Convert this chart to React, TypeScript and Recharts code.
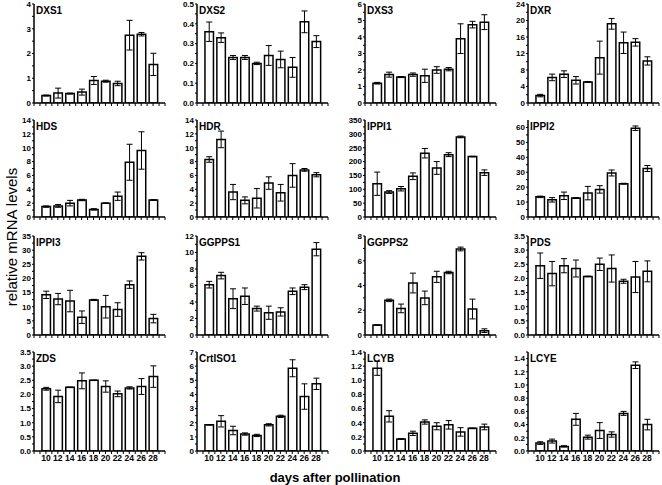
import React from 'react';
import { BarChart, Bar, XAxis, YAxis, ErrorBar } from 'recharts';

// days after pollination
const days = [10, 12, 14, 16, 18, 20, 22, 24, 26, 28];
const dayTicks = [8, 9, 10, 11, 12, 13, 14, 15, 16, 17, 18, 19, 20, 21, 22, 23, 24, 25, 26, 27, 28, 29, 30];

// means and errors
const dxs1 = [0.3, 0.4, 0.38, 0.44, 0.91, 0.88, 0.79, 2.74, 2.78, 1.56];
const dxs1Err = [0.02, 0.2, 0.02, 0.12, 0.16, 0.04, 0.09, 0.6, 0.07, 0.45];
const dxs2 = [0.36, 0.33, 0.23, 0.23, 0.2, 0.24, 0.22, 0.18, 0.41, 0.31];
const dxs2Err = [0.049, 0.024, 0.01, 0.01, 0.006, 0.05, 0.042, 0.05, 0.055, 0.03];
const dxs3 = [1.2, 1.72, 1.57, 1.72, 1.65, 2.0, 2.05, 3.9, 4.75, 4.9];
const dxs3Err = [0.05, 0.15, 0.03, 0.1, 0.4, 0.2, 0.1, 0.9, 0.2, 0.45];
const dxr = [1.8, 6.2, 7.0, 5.5, 5.1, 11.0, 19.2, 14.6, 14.7, 10.2];
const dxrErr = [0.3, 0.8, 0.8, 0.9, 0.1, 4.0, 1.3, 2.6, 0.9, 1.0];
const hds = [1.5, 1.6, 2.0, 2.45, 1.1, 2.0, 3.0, 7.9, 9.6, 2.45];
const hdsErr = [0.1, 0.2, 0.4, 0.1, 0.1, 0.05, 0.6, 2.6, 2.7, 0.05];
const hdr = [8.3, 11.2, 3.6, 2.4, 2.7, 4.9, 3.5, 6.0, 6.8, 6.1];
const hdrErr = [0.4, 1.2, 1.1, 0.5, 1.4, 0.9, 1.2, 1.7, 0.2, 0.3];
const ippi1 = [120, 90, 102, 147, 230, 177, 225, 289, 218, 160];
const ippi1Err = [42, 5, 8, 12, 17, 23, 7, 3, 1, 10];
const ippi2 = [13.5, 11.5, 14.2, 12.7, 16, 18.5, 29.5, 22.3, 59.5, 32.5];
const ippi2Err = [0.5, 1.5, 2.5, 0.3, 4.5, 2.5, 2, 0.3, 1.5, 2];
const ippi3 = [14.2, 12.7, 12, 6.3, 12.4, 10, 9, 17.8, 27.8, 5.8];
const ippi3Err = [1.3, 2, 3.8, 2.2, 0.2, 4, 2.4, 1.3, 1.3, 1.5];
const ggpps1 = [6.1, 7.2, 4.4, 4.7, 3.2, 2.7, 2.8, 5.3, 5.8, 10.4];
const ggpps1Err = [0.4, 0.4, 1.2, 1.0, 0.3, 0.8, 0.5, 0.4, 0.3, 0.8];
const ggpps2 = [0.8, 2.8, 2.15, 4.2, 3.0, 4.7, 5.05, 6.95, 2.1, 0.35];
const ggpps2Err = [0.02, 0.1, 0.35, 0.8, 0.55, 0.45, 0.1, 0.15, 0.8, 0.15];
const pds = [2.45, 2.17, 2.45, 2.35, 2.07, 2.5, 2.35, 1.9, 2.05, 2.25];
const pdsErr = [0.45, 0.43, 0.25, 0.3, 0.01, 0.22, 0.48, 0.07, 0.55, 0.37];
const zds = [2.2, 1.93, 2.25, 2.48, 2.5, 2.28, 2.02, 2.23, 2.28, 2.63];
const zdsErr = [0.05, 0.22, 0.01, 0.28, 0.01, 0.2, 0.1, 0.04, 0.28, 0.38];
const crtiso1 = [1.85, 2.1, 1.45, 1.2, 1.1, 1.85, 2.45, 5.85, 3.85, 4.75];
const crtiso1Err = [0.02, 0.4, 0.3, 0.08, 0.08, 0.08, 0.08, 0.6, 0.9, 0.4];
const lcyb = [1.17, 0.49, 0.17, 0.25, 0.41, 0.35, 0.37, 0.27, 0.32, 0.34];
const lcybErr = [0.1, 0.08, 0.005, 0.03, 0.03, 0.05, 0.06, 0.06, 0.005, 0.04];
const lcye = [0.12, 0.15, 0.07, 0.48, 0.21, 0.31, 0.25, 0.57, 1.3, 0.4];
const lcyeErr = [0.02, 0.03, 0.01, 0.09, 0.03, 0.12, 0.04, 0.03, 0.05, 0.08];

interface Panel {
  name: string;
  mean: number[];
  err: number[];
  max: number; // last labelled tick
  step: number;
  digits: number;
  top?: number; // axis end when above last tick
}

const panels: Panel[] = [
  { name: 'DXS1', mean: dxs1, err: dxs1Err, max: 4, step: 1, digits: 0 },
  { name: 'DXS2', mean: dxs2, err: dxs2Err, max: 0.5, step: 0.1, digits: 1 },
  { name: 'DXS3', mean: dxs3, err: dxs3Err, max: 6, step: 1, digits: 0 },
  { name: 'DXR', mean: dxr, err: dxrErr, max: 24, step: 4, digits: 0 },
  { name: 'HDS', mean: hds, err: hdsErr, max: 14, step: 2, digits: 0 },
  { name: 'HDR', mean: hdr, err: hdrErr, max: 14, step: 2, digits: 0 },
  { name: 'IPPI1', mean: ippi1, err: ippi1Err, max: 350, step: 50, digits: 0 },
  { name: 'IPPI2', mean: ippi2, err: ippi2Err, max: 60, step: 10, digits: 0, top: 65 },
  { name: 'IPPI3', mean: ippi3, err: ippi3Err, max: 35, step: 5, digits: 0 },
  { name: 'GGPPS1', mean: ggpps1, err: ggpps1Err, max: 12, step: 2, digits: 0 },
  { name: 'GGPPS2', mean: ggpps2, err: ggpps2Err, max: 8, step: 2, digits: 0 },
  { name: 'PDS', mean: pds, err: pdsErr, max: 3.5, step: 0.5, digits: 1 },
  { name: 'ZDS', mean: zds, err: zdsErr, max: 3.5, step: 0.5, digits: 1 },
  { name: 'CrtISO1', mean: crtiso1, err: crtiso1Err, max: 7, step: 1, digits: 0 },
  { name: 'LCYB', mean: lcyb, err: lcybErr, max: 1.4, step: 0.2, digits: 1 },
  { name: 'LCYE', mean: lcye, err: lcyeErr, max: 1.5, step: 0.2, digits: 1, top: 1.5 },
];

const AXIS_X = [34, 197, 365, 528];
const ROW_TOP = [4, 120, 236, 352];
const ROW_H = [99, 97, 99, 99];
const PLOT_W = 131;
const Y_W = 30;
const PAD_T = 6;
const X_H = 16;
const FONT = "'Liberation Sans', Arial, sans-serif";

const GenePanel = ({ panel, col, row }: { panel: Panel; col: number; row: number }) => {
  const data = days.map((d, i) => ({ day: d, mean: panel.mean[i], err: panel.err[i] }));
  const bottom = row === 3;
  const plotH = ROW_H[row];
  const half = panel.step / 2;
  const n = Math.round(panel.max / half);
  const yTicks = Array.from({ length: n + 1 }, (_, i) => +(i * half).toFixed(4));
  const isMajor = (v: number) => Math.abs(v / panel.step - Math.round(v / panel.step)) < 1e-6;
  return (
    <div style={{ position: 'absolute', left: AXIS_X[col] - Y_W, top: ROW_TOP[row] - PAD_T }}>
      <BarChart
        width={Y_W + PLOT_W + 4}
        height={PAD_T + plotH + X_H}
        data={data}
        margin={{ top: PAD_T, right: 4, bottom: 0, left: 0 }}
      >
        <XAxis
          dataKey="day"
          type="number"
          domain={[8, 30]}
          ticks={dayTicks}
          interval={0}
          allowDataOverflow
          height={X_H}
          tickSize={3}
          tickMargin={1}
          axisLine={{ stroke: '#000', strokeWidth: 1.5 }}
          tickLine={{ stroke: '#000' }}
          tick={{ fill: '#000', fontSize: 8.5, fontWeight: 'bold', fontFamily: FONT }}
          tickFormatter={(v: number) => (bottom && v % 2 === 0 && v >= 10 && v <= 28 ? String(v) : '')}
        />
        <YAxis
          type="number"
          width={Y_W}
          domain={[0, panel.top ?? panel.max]}
          ticks={yTicks}
          interval={0}
          allowDataOverflow
          tickSize={2}
          tickMargin={1}
          axisLine={{ stroke: '#000', strokeWidth: 1.5 }}
          tickLine={{ stroke: '#000' }}
          tick={{ fill: '#000', fontSize: 8, fontWeight: 'bold', fontFamily: FONT }}
          tickFormatter={(v: number) => (isMajor(v) ? v.toFixed(panel.digits) : '')}
        />
        <Bar dataKey="mean" fill="#fff" stroke="#000" strokeWidth={1.5} barSize={8.5} isAnimationActive={false}>
          <ErrorBar dataKey="err" width={3} stroke="#000" strokeWidth={1} direction="y" />
        </Bar>
      </BarChart>
      <div
        style={{
          position: 'absolute',
          left: Y_W + 2,
          top: PAD_T + 1.5,
          fontFamily: FONT,
          fontWeight: 'bold',
          fontSize: 10,
          lineHeight: '10px',
          color: '#000',
        }}
      >
        {panel.name}
      </div>
    </div>
  );
};

export default function App() {
  return (
    <div style={{ position: 'absolute', left: 0, top: 0, width: 662, height: 485, background: '#fff' }}>
      {panels.map((p, i) => (
        <GenePanel key={p.name} panel={p} col={i % 4} row={Math.floor(i / 4)} />
      ))}
      <svg width={662} height={485} style={{ position: 'absolute', left: 0, top: 0, pointerEvents: 'none' }}>
        <text
          x={0}
          y={0}
          transform="translate(11, 237) rotate(-90)"
          textAnchor="middle"
          dominantBaseline="central"
          fontFamily={FONT}
          fontSize={15}
          fill="#000"
        >
          relative mRNA levels
        </text>
        <text x={335} y={482} textAnchor="middle" fontFamily={FONT} fontSize={13} fontWeight="bold" fill="#000">
          days after pollination
        </text>
      </svg>
    </div>
  );
}
